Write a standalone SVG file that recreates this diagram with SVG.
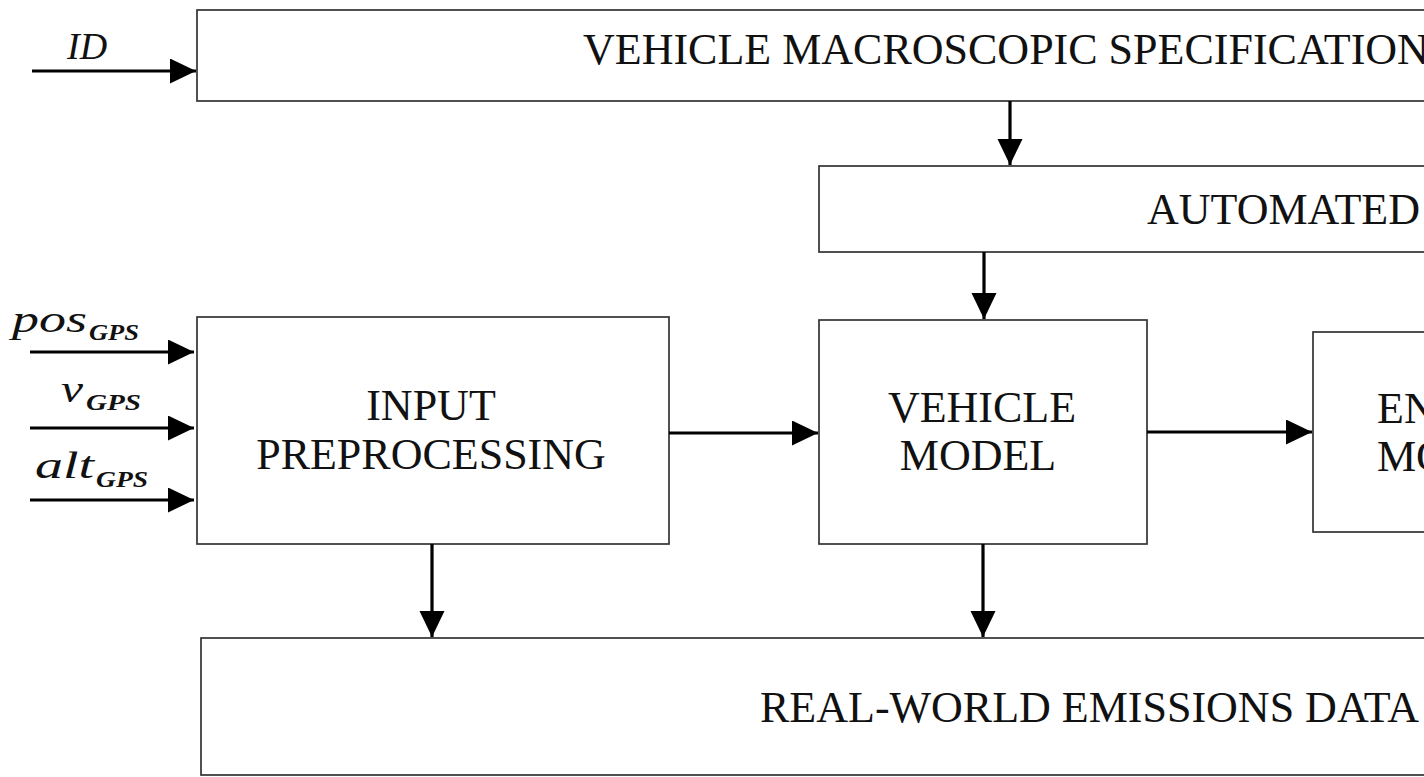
<svg xmlns="http://www.w3.org/2000/svg" width="1424" height="777" viewBox="0 0 1424 777">
<style>
.box{fill:#fff;stroke:#333;stroke-width:1.7}
.lbl{font-family:"Liberation Serif","Times New Roman",serif;font-size:44px;fill:#111}
.mid{text-anchor:middle}
.mth{font-family:"Liberation Serif","Times New Roman",serif;font-style:italic;font-size:38px;fill:#111}
.sub{font-family:"Liberation Serif","Times New Roman",serif;font-style:italic;font-weight:bold;font-size:24px;fill:#111}
.arr{stroke:#000;stroke-width:3.2;fill:none;marker-end:url(#ah)}
</style>
<defs>
<marker id="ah" markerUnits="userSpaceOnUse" markerWidth="27" markerHeight="26" refX="26" refY="12.5" orient="auto">
<path d="M0,0 L26,12.5 L0,25 z" fill="#000"/>
</marker>
</defs>
<rect width="1424" height="777" fill="#fff"/>
<g id="vehicle-macroscopic-specification">
<rect class="box" x="197" y="10" width="1300" height="91"/>
<text class="lbl" x="583" y="64">VEHICLE MACROSCOPIC SPECIFICATION</text>
</g>
<g id="automated">
<rect class="box" x="819" y="166" width="700" height="86"/>
<text class="lbl" x="1147" y="224">AUTOMATED</text>
</g>
<g id="input-preprocessing">
<rect class="box" x="197" y="317" width="472" height="227"/>
<text class="lbl mid" x="431" y="420">INPUT</text>
<text class="lbl mid" x="431" y="469">PREPROCESSING</text>
</g>
<g id="vehicle-model">
<rect class="box" x="819" y="320" width="328" height="224"/>
<text class="lbl mid" x="982" y="422">VEHICLE</text>
<text class="lbl mid" x="978" y="470">MODEL</text>
</g>
<g id="engine-model">
<rect class="box" x="1313" y="332" width="200" height="200"/>
<text class="lbl" x="1377" y="423">EN</text>
<text class="lbl" x="1377" y="471">MO</text>
</g>
<g id="real-world-emissions-data">
<rect class="box" x="201" y="638" width="1300" height="137"/>
<text class="lbl" x="760" y="722">REAL-WORLD EMISSIONS DATA</text>
</g>
<g id="input-labels">
<text class="mth" x="67" y="59" font-size="41">ID</text>
<text class="mth" x="12" y="332" textLength="75" lengthAdjust="spacingAndGlyphs">pos</text>
<text class="sub" x="89" y="340" textLength="50" lengthAdjust="spacingAndGlyphs">GPS</text>
<text class="mth" x="61" y="402" textLength="22" lengthAdjust="spacingAndGlyphs">v</text>
<text class="sub" x="86" y="410" textLength="55" lengthAdjust="spacingAndGlyphs">GPS</text>
<text class="mth" x="35" y="478" textLength="59" lengthAdjust="spacingAndGlyphs">alt</text>
<text class="sub" x="96" y="487" textLength="52" lengthAdjust="spacingAndGlyphs">GPS</text>
</g>
<g id="connectors">
<line class="arr" x1="32" y1="71" x2="196" y2="71"/>
<line class="arr" x1="30" y1="352" x2="194" y2="352"/>
<line class="arr" x1="30" y1="428" x2="194" y2="428"/>
<line class="arr" x1="30" y1="500" x2="194" y2="500"/>
<line class="arr" x1="1010" y1="101" x2="1010" y2="165"/>
<line class="arr" x1="984" y1="252" x2="984" y2="319"/>
<line class="arr" x1="669" y1="433" x2="818" y2="433"/>
<line class="arr" x1="1147" y1="432" x2="1312" y2="432"/>
<line class="arr" x1="432" y1="544" x2="432" y2="637"/>
<line class="arr" x1="983" y1="544" x2="983" y2="637"/>
</g>
</svg>
